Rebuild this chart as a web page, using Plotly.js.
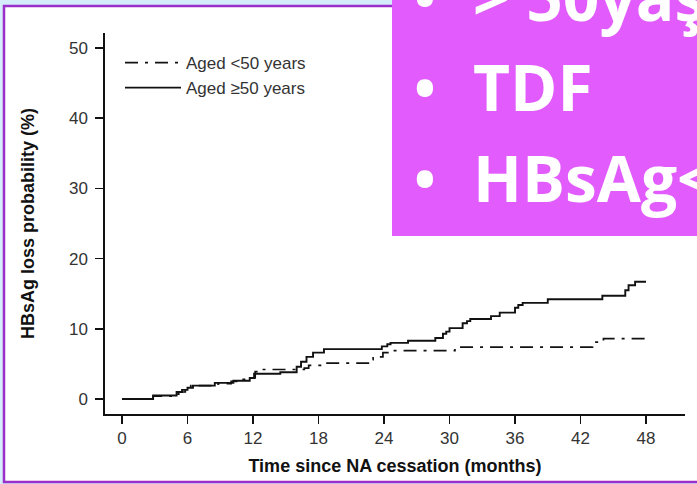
<!DOCTYPE html>
<html>
<head>
<meta charset="utf-8">
<script src="https://cdn.plot.ly/plotly-3.0.1.min.js"></script>
<style>html,body{margin:0;padding:0;background:#d5ecfb;}#chart{width:697px;height:484px;}</style>
</head>
<body>
<div id="chart"></div>
<script>
// Data (months since NA cessation, cumulative HBsAg loss %)
const under50Months = [0, 2.85, 4.5, 5.2, 5.8, 6.3, 8.8, 10.0, 11.0, 11.5, 12.2, 12.8, 16.7, 17.1, 18.4, 22.7, 23.0, 23.9, 24.8, 30.5, 43.1, 44.1, 48.0];
const under50Pct    = [0, 0.4, 0.7, 1.0, 1.5, 1.9, 2.2, 2.5, 2.8, 3.0, 3.9, 4.2, 4.4, 4.8, 5.1, 5.6, 6.0, 6.6, 6.9, 7.4, 8.1, 8.6, 8.6];
const over50Months  = [0, 2.85, 5.0, 5.5, 6.0, 6.5, 8.5, 10.2, 11.7, 12.1, 14.5, 16.0, 16.4, 16.9, 17.5, 18.5, 23.8, 24.3, 24.6, 26.2, 28.7, 29.4, 29.7, 30.0, 31.2, 31.6, 31.9, 33.8, 34.6, 36.0, 36.3, 36.7, 39.0, 44.0, 46.1, 46.4, 47.0, 48.0];
const over50Pct     = [0, 0.5, 1.0, 1.3, 1.6, 1.9, 2.3, 2.6, 3.0, 3.6, 3.8, 4.6, 5.3, 6.0, 6.6, 7.1, 7.5, 7.8, 8.0, 8.3, 8.7, 9.3, 9.6, 10.1, 10.8, 11.1, 11.4, 11.8, 12.3, 13.0, 13.4, 13.7, 14.2, 14.7, 15.5, 16.2, 16.7, 16.7];
const seriesNames = ["Aged &lt;50 years", "Aged ≥50 years"];
const xTicks = [0, 6, 12, 18, 24, 30, 36, 42, 48];
const yTicks = [0, 10, 20, 30, 40, 50];
const bulletLines = ["&gt; 50yaş", "TDF", "HBsAg&lt;"];

// geometry helpers (pixel -> paper)
const L = 105, R = 685, T = 33, B = 414;
const px = p => (p - L) / (R - L);
const py = p => (B - p) / (B - T);

const traces = [
  {x: under50Months, y: under50Pct, name: seriesNames[0], mode: "lines",
   line: {shape: "hv", color: "#111", width: 1.7, dash: "13px,7px,3px,7px"}},
  {x: over50Months, y: over50Pct, name: seriesNames[1], mode: "lines",
   line: {shape: "hv", color: "#111", width: 1.9}}
];

const bulletFont = {family: "Open Sans", size: 64, color: "#ffffff", weight: 700};
const lineMid = [-3, 87, 177];
const annotations = [];
bulletLines.forEach((t, i) => {
  annotations.push({xref: "paper", yref: "paper", x: px(425), y: py(lineMid[i]), text: "•",
    showarrow: false, xanchor: "center", yanchor: "middle", font: Object.assign({}, bulletFont, {size: 58})});
  annotations.push({xref: "paper", yref: "paper", x: px(471), y: py(lineMid[i]), text: "<b>" + t + "</b>",
    showarrow: false, xanchor: "left", yanchor: "middle", font: bulletFont});
});

const layout = {
  width: 697, height: 484,
  margin: {l: L, r: 697 - R, t: T, b: 484 - B},
  paper_bgcolor: "#d5ecfb",
  plot_bgcolor: "rgba(0,0,0,0)",
  font: {family: "Liberation Sans, Arial, sans-serif", color: "#333"},
  showlegend: true,
  legend: {x: px(120), y: py(45), xanchor: "left", yanchor: "top", bgcolor: "rgba(0,0,0,0)",
    font: {size: 17, color: "#333"}, itemwidth: 56, tracegroupgap: 0},
  xaxis: {range: [-1.557, 51.57], tickvals: xTicks, ticktext: xTicks.map(String),
    showline: true, linecolor: "#111", linewidth: 1.6, ticks: "outside", ticklen: 8, tickwidth: 1.6, tickcolor: "#111",
    showgrid: false, zeroline: false, tickfont: {size: 17, color: "#333"},
    title: {text: "Time since NA cessation (months)", font: {size: 18, color: "#111", weight: 700}, standoff: 12}},
  yaxis: {range: [-2.137, 52.14], tickvals: yTicks, ticktext: yTicks.map(String),
    showline: true, linecolor: "#111", linewidth: 1.6, ticks: "outside", ticklen: 8, tickwidth: 1.6, tickcolor: "#111",
    showgrid: false, zeroline: false, tickfont: {size: 17, color: "#333"}, ticklabelstandoff: 4,
    title: {text: "HBsAg loss probability (%)", font: {size: 18, color: "#111", weight: 700}, standoff: 30}},
  shapes: [
    {type: "rect", xref: "paper", yref: "paper", x0: px(4), x1: px(702), y0: py(482), y1: py(6),
     line: {color: "#9a2fc9", width: 2.5}, fillcolor: "#ffffff", layer: "below"},
    {type: "rect", xref: "paper", yref: "paper", x0: px(392), x1: px(705), y0: py(236), y1: py(-10),
     line: {width: 0}, fillcolor: "#e25bfc", layer: "above"}
  ],
  annotations: annotations
};

Plotly.newPlot("chart", traces, layout, {displayModeBar: false, staticPlot: true});
</script>
</body>
</html>
